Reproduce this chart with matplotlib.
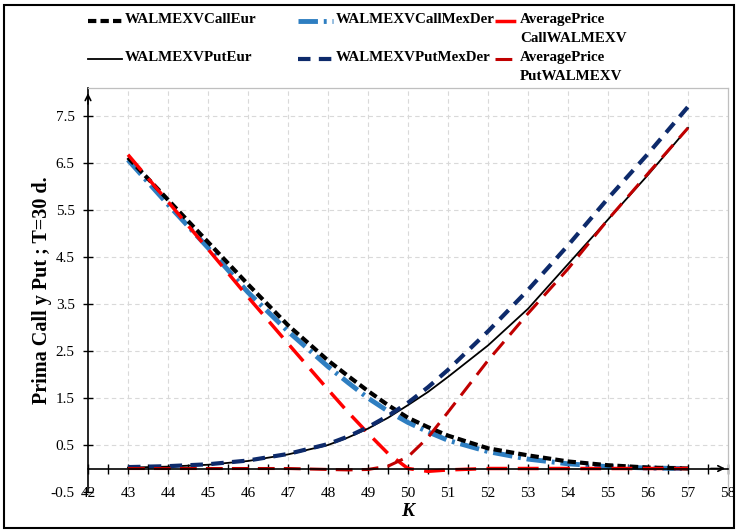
import matplotlib
matplotlib.use("Agg")
import matplotlib.pyplot as plt
from matplotlib.lines import Line2D
from matplotlib.patches import Rectangle

# strike prices and option premiums (T = 30 days)
strikes = [43, 44, 45, 46, 47, 48, 48.5, 49, 49.5, 50, 50.5, 51, 52, 53, 54, 55, 56, 57]
call_eur = [6.62, 5.72, 4.82, 3.92, 3.05, 2.30, 1.97, 1.65, 1.35, 1.08, 0.88, 0.70, 0.43, 0.28, 0.15, 0.07, 0.02, 0.00]
call_mexder = [6.57, 5.62, 4.70, 3.75, 2.92, 2.17, 1.83, 1.50, 1.22, 0.98, 0.78, 0.60, 0.36, 0.20, 0.10, 0.04, 0.01, 0.00]
avg_call = [6.68, 5.68, 4.67, 3.65, 2.66, 1.68, 1.20, 0.75, 0.32, 0.00, -0.06, -0.03, 0.00, 0.00, 0.00, 0.00, 0.00, 0.00]
put_eur = [0.02, 0.04, 0.08, 0.16, 0.30, 0.50, 0.66, 0.85, 1.08, 1.35, 1.63, 1.95, 2.62, 3.40, 4.35, 5.30, 6.25, 7.25]
put_mexder = [0.03, 0.05, 0.09, 0.17, 0.31, 0.52, 0.68, 0.88, 1.12, 1.40, 1.73, 2.10, 2.92, 3.80, 4.75, 5.75, 6.70, 7.70]
avg_put = [0.00, 0.00, 0.00, 0.00, 0.00, -0.02, -0.03, -0.02, 0.05, 0.25, 0.66, 1.20, 2.30, 3.30, 4.25, 5.30, 6.28, 7.25]

x_ticks = list(range(42, 59))
y_ticks = [-0.5, 0.5, 1.5, 2.5, 3.5, 4.5, 5.5, 6.5, 7.5]

plt.rcParams['font.family'] = ['Liberation Serif', 'DejaVu Serif']

W, H = 738, 531
fig = plt.figure(figsize=(W / 100, H / 100), dpi=100)
ax = fig.add_axes([88 / W, 1 - 492 / H, 640 / W, 404 / H])

# grid
for xv in x_ticks[1:-1]:
    ax.axvline(xv, color='#D9D9D9', lw=0.8, ls=(0, (4, 3)), zorder=0)
for yv in y_ticks[1:]:
    ax.axhline(yv, color='#D9D9D9', lw=0.8, ls=(0, (4, 3)), zorder=0)

styles = {
    'WALMEXVCallMexDer': dict(color='#2E7EC1', lw=3.5, dashes=(4, 1.2, 0.6, 1.2)),
    'WALMEXVCallEur': dict(color='black', lw=3, dashes=(2, 1)),
    'AveragePrice\nCallWALMEXV': dict(color='#FF0000', lw=2.5, dashes=(6, 3)),
    'WALMEXVPutEur': dict(color='black', lw=1.3),
    'WALMEXVPutMexDer': dict(color='#0D2A6B', lw=3, dashes=(3, 2)),
    'AveragePrice\nPutWALMEXV': dict(color='#C00000', lw=2.2, dashes=(5.5, 3)),
}
series = {
    'WALMEXVCallMexDer': call_mexder,
    'WALMEXVCallEur': call_eur,
    'AveragePrice\nCallWALMEXV': avg_call,
    'WALMEXVPutEur': put_eur,
    'WALMEXVPutMexDer': put_mexder,
    'AveragePrice\nPutWALMEXV': avg_put,
}
for name, vals in series.items():
    ax.plot(strikes, vals, **styles[name])

ax.set_xlim(42, 58)
ax.set_ylim(-0.5, 8.1)
ax.set_xticks(x_ticks)
ax.set_xticks([v + 0.5 for v in x_ticks[:-1]], minor=True)
ax.set_yticks(y_ticks)
ax.set_yticklabels([str(v) for v in y_ticks])

ax.spines['bottom'].set_position(('data', 0))
ax.spines['bottom'].set_linewidth(1.2)
ax.spines['left'].set_linewidth(1.2)
for s in ['top', 'right']:
    ax.spines[s].set_color('#BFBFBF')
    ax.spines[s].set_linewidth(0.9)
ax.tick_params(axis='x', which='both', direction='inout', length=7, width=1, pad=10, labelsize=11)
ax.tick_params(axis='y', direction='inout', length=7, width=1, labelsize=11, pad=6)

# axis arrows
ax.annotate('', xy=(58, 0), xytext=(57.5, 0),
            arrowprops=dict(arrowstyle='->', color='black', lw=1.2))
ax.annotate('', xy=(42, 8.05), xytext=(42, 7.7),
            arrowprops=dict(arrowstyle='->', color='black', lw=1.2))

ax.set_ylabel('Prima Call y Put ; T=30 d.', fontsize=14.5, fontweight='bold', labelpad=-1)
ax.set_xlabel('K', fontsize=14, fontweight='bold', style='italic', labelpad=2)

# legend drawn by hand so that rows line up like the original
legend_cols = [(88, 122, 125), (298, 333, 336), (495, 517, 520)]
legend_rows = [21, 59]
legend_order = [['WALMEXVCallEur', 'WALMEXVPutEur'],
                ['WALMEXVCallMexDer', 'WALMEXVPutMexDer'],
                ['AveragePrice\nCallWALMEXV', 'AveragePrice\nPutWALMEXV']]
for (x0, x1, xt), names in zip(legend_cols, legend_order):
    for yr, name in zip(legend_rows, names):
        yf = 1 - yr / H
        fig.add_artist(Line2D([x0 / W, x1 / W], [yf, yf], transform=fig.transFigure, **styles[name]))
        fig.text(xt / W, yf + 8 / H, name, ha='left', va='top', fontsize=10.8,
                 fontweight='bold', linespacing=1.65)

# outer frame
fig.patches.append(Rectangle((0.006, 0.006), 0.988, 0.985, transform=fig.transFigure,
                             fill=False, edgecolor='black', lw=1.5))

fig.savefig('out.png', dpi=100)
